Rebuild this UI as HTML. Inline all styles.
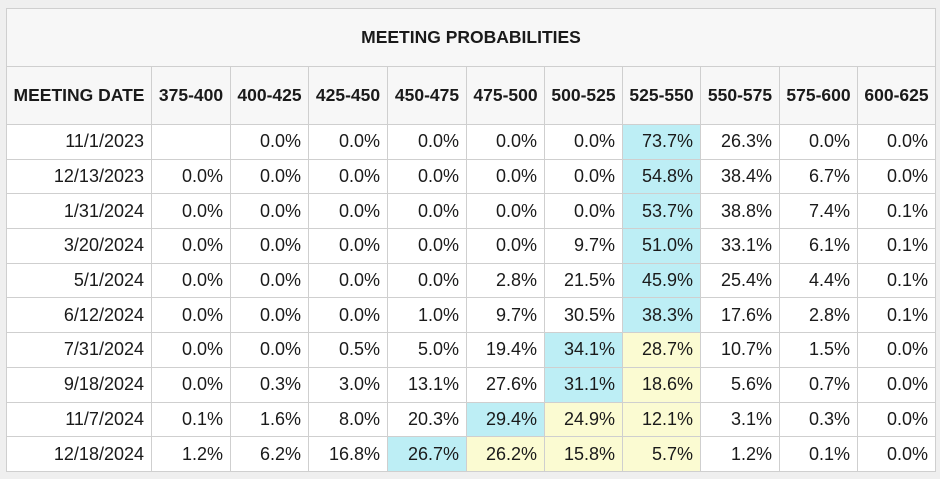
<!DOCTYPE html>
<html><head><meta charset="utf-8"><style>
html,body{margin:0;padding:0;width:940px;height:479px;background:#efefef;overflow:hidden}
table{position:absolute;left:6px;top:8px;border-collapse:collapse;table-layout:fixed;font-family:"Liberation Sans",Arial,sans-serif;color:#1a1a1a;background:#fff}
td,th{border:1px solid #cfcfcf;padding:0 7px 0 0;font-size:18px;text-align:right;height:33.7px;white-space:nowrap;overflow:hidden}
th{background:#f7f7f7;font-weight:bold;font-size:17.5px;text-align:center;padding:0;height:57px}
th.title{font-size:17.5px}
td.b{background:#bdeef5}
td.y{background:#fbfbd2}
</style></head><body>
<table>
<colgroup><col style="width:145px"><col style="width:79px"><col style="width:78px"><col style="width:79px"><col style="width:79px"><col style="width:78px"><col style="width:78px"><col style="width:78px"><col style="width:79px"><col style="width:78px"><col style="width:78px"></colgroup>
<thead>
<tr><th class="title" colspan="11">MEETING PROBABILITIES</th></tr>
<tr id="hdr"></tr>
</thead>
<tbody id="body"></tbody>
</table>
<script>
const headers=["MEETING DATE","375-400","400-425","425-450","450-475","475-500","500-525","525-550","550-575","575-600","600-625"];
const dates=["11/1/2023","12/13/2023","1/31/2024","3/20/2024","5/1/2024","6/12/2024","7/31/2024","9/18/2024","11/7/2024","12/18/2024"];
const values=[
[null,0.0,0.0,0.0,0.0,0.0,73.7,26.3,0.0,0.0],
[0.0,0.0,0.0,0.0,0.0,0.0,54.8,38.4,6.7,0.0],
[0.0,0.0,0.0,0.0,0.0,0.0,53.7,38.8,7.4,0.1],
[0.0,0.0,0.0,0.0,0.0,9.7,51.0,33.1,6.1,0.1],
[0.0,0.0,0.0,0.0,2.8,21.5,45.9,25.4,4.4,0.1],
[0.0,0.0,0.0,1.0,9.7,30.5,38.3,17.6,2.8,0.1],
[0.0,0.0,0.5,5.0,19.4,34.1,28.7,10.7,1.5,0.0],
[0.0,0.3,3.0,13.1,27.6,31.1,18.6,5.6,0.7,0.0],
[0.1,1.6,8.0,20.3,29.4,24.9,12.1,3.1,0.3,0.0],
[1.2,6.2,16.8,26.7,26.2,15.8,5.7,1.2,0.1,0.0]];
const currentCol=6;
const hdr=document.getElementById('hdr');
headers.forEach((h,i)=>{const th=document.createElement('th');th.textContent=h;


hdr.appendChild(th);});
const body=document.getElementById('body');
dates.forEach((d,r)=>{const tr=document.createElement('tr');


const td0=document.createElement('td');td0.textContent=d;


tr.appendChild(td0);
const row=values[r];let mx=-1,mi=-1;row.forEach((v,i)=>{if(v!==null&&v>mx){mx=v;mi=i;}});
row.forEach((v,i)=>{const td=document.createElement('td');


td.textContent=v===null?'':v.toFixed(1)+'%';
if(i===mi)td.className='b';
else if(i>mi&&i<=currentCol)td.className='y';
tr.appendChild(td);});
body.appendChild(tr);});
</script>
</body></html>
